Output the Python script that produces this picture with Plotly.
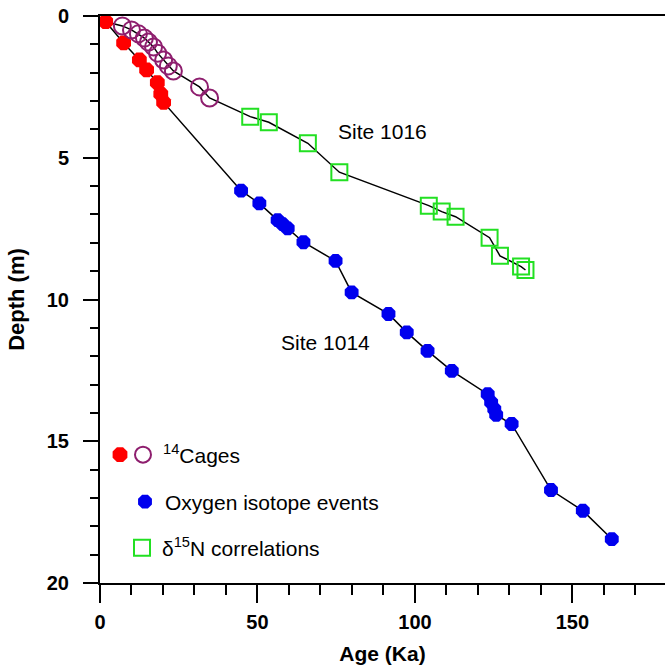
import plotly.graph_objects as go

# Site 1014 - 14C ages (filled red)
red_age = [1.8, 7.5, 12.5, 14.8, 18.2, 19.3, 20.2]
red_depth = [0.2, 0.95, 1.55, 1.9, 2.35, 2.75, 3.05]

# Site 1014 - oxygen isotope events (blue)
blue_age = [44.8, 50.6, 56.4, 58.0, 59.6, 64.6, 74.8, 79.9, 91.6, 97.4, 104.0,
            111.7, 123.1, 124.2, 125.2, 125.8, 130.7, 143.2, 153.3, 162.5]
blue_depth = [6.16, 6.61, 7.20, 7.34, 7.49, 7.98, 8.64, 9.75, 10.51, 11.16, 11.81,
              12.52, 13.34, 13.63, 13.87, 14.07, 14.39, 16.72, 17.45, 18.45]

# Site 1016 - 14C ages (open purple circles)
purple_age = [7.1, 10.0, 12.2, 14.1, 15.4, 17.0, 18.3, 20.2, 21.7, 23.3, 31.6, 34.8]
purple_depth = [0.35, 0.49, 0.63, 0.78, 0.92, 1.09, 1.31, 1.55, 1.76, 1.94, 2.50, 2.89]

# Site 1016 - d15N correlations (open green squares)
green_age = [47.7, 53.6, 66.0, 76.0, 104.4, 108.5, 112.9, 123.7, 127.0, 133.7, 135.1]
green_depth = [3.55, 3.75, 4.49, 5.51, 6.69, 6.90, 7.08, 7.82, 8.46, 8.84, 8.96]

site_labels = ["Site 1016", "Site 1014"]
site_label_age = [89.7, 71.5]
site_label_depth = [4.06, 11.5]

FONT = "Arial, Liberation Sans, sans-serif"
RED = "#FF0000"
BLUE = "#0000EE"
PURPLE = "#8E1E6E"
GREEN = "#22E022"

line_1014_x = red_age + blue_age
line_1014_y = red_depth + blue_depth
line_1016_x = [red_age[0]] + purple_age + green_age
line_1016_y = [red_depth[0]] + purple_depth + green_depth

fig = go.Figure()
fig.add_trace(go.Scatter(x=line_1014_x, y=line_1014_y, mode="lines",
                         line=dict(color="black", width=1.5), showlegend=False, hoverinfo="skip"))
fig.add_trace(go.Scatter(x=line_1016_x, y=line_1016_y, mode="lines",
                         line=dict(color="black", width=1.5), showlegend=False, hoverinfo="skip"))

fig.add_trace(go.Scatter(x=red_age, y=red_depth, mode="markers", name=" ",
                         marker=dict(symbol="octagon", size=16, color=RED, line=dict(width=0)),
                         legend="legend4"))
fig.add_trace(go.Scatter(x=purple_age, y=purple_depth, mode="markers", name="<sup>14</sup>Cages",
                         marker=dict(symbol="circle-open", size=17, color=PURPLE, line=dict(width=2, color=PURPLE)),
                         legend="legend"))
fig.add_trace(go.Scatter(x=blue_age, y=blue_depth, mode="markers", name="Oxygen isotope events",
                         marker=dict(symbol="octagon", size=15, color=BLUE, line=dict(width=0)),
                         legend="legend2"))
fig.add_trace(go.Scatter(x=green_age, y=green_depth, mode="markers", name="\u03b4<sup>15</sup>N correlations",
                         marker=dict(symbol="square-open", size=16, color=GREEN, line=dict(width=2, color=GREEN)),
                         legend="legend3"))

for t, ax, ay in zip(site_labels, site_label_age, site_label_depth):
    fig.add_annotation(x=ax, y=ay, text=t, showarrow=False, xref="x", yref="y",
                       font=dict(family=FONT, size=21, color="black"))

leg_common = dict(font=dict(family=FONT, size=21, color="black"), bgcolor="rgba(0,0,0,0)",
                  borderwidth=0, xanchor="left", yanchor="middle", itemsizing="trace")

def px_to_paper(px, py):
    return (px - 100) / 565.0, (583 - py) / 567.0

fig.update_layout(
    legend=dict(x=px_to_paper(123, 455)[0], y=px_to_paper(123, 455)[1], **leg_common),
    legend2=dict(x=px_to_paper(125, 502)[0], y=px_to_paper(125, 502)[1], **leg_common),
    legend3=dict(x=px_to_paper(122, 548)[0], y=px_to_paper(122, 548)[1], **leg_common),
    legend4=dict(x=px_to_paper(100, 455)[0], y=px_to_paper(100, 455)[1], **leg_common),
)

fig.update_xaxes(range=[0, 179.4], showline=True, linecolor="black", linewidth=2, mirror=True,
                 showgrid=False, zeroline=False, ticks="outside", ticklen=18, tickwidth=2,
                 tickcolor="black", tick0=0, dtick=50, ticklabelstandoff=2,
                 tickfont=dict(family=FONT, size=20, color="black", weight="bold"),
                 minor=dict(ticks="outside", ticklen=10, tickwidth=2, tickcolor="black", dtick=10, showgrid=False),
                 title=dict(text="<b>Age (Ka)</b>", font=dict(family=FONT, size=21, color="black"), standoff=14))
fig.update_yaxes(range=[20, 0], showline=True, linecolor="black", linewidth=2,
                 showgrid=False, zeroline=False, ticks="outside", ticklen=15, tickwidth=2,
                 tickcolor="black", tick0=0, dtick=5, ticklabelstandoff=10,
                 tickfont=dict(family=FONT, size=20, color="black", weight="bold"),
                 minor=dict(ticks="outside", ticklen=8, tickwidth=2, tickcolor="black", dtick=1, showgrid=False),
                 title=dict(text="<b>Depth (m)</b>", font=dict(family=FONT, size=22, color="black"), standoff=16))

fig.update_layout(width=665, height=667, margin=dict(l=100, r=0, t=16, b=84),
                  plot_bgcolor="white", paper_bgcolor="white", showlegend=True)

fig.write_html("out.html")
